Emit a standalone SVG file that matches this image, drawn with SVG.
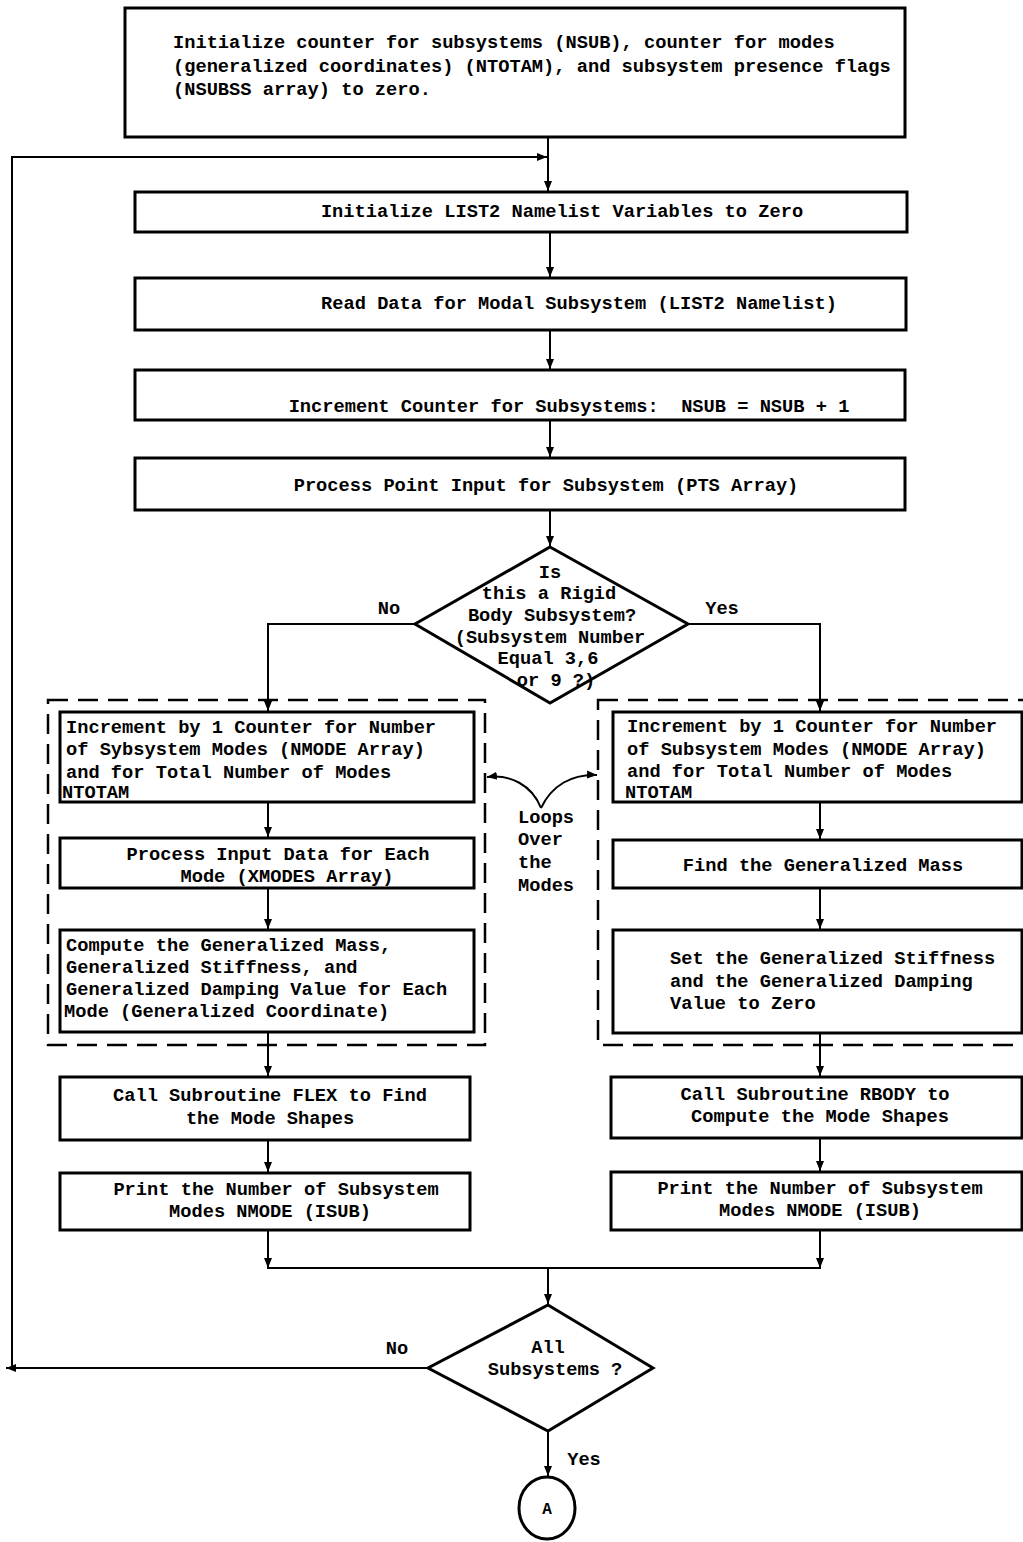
<svg xmlns="http://www.w3.org/2000/svg" width="1023" height="1542" viewBox="0 0 1023 1542">
<defs>
<style>
.box{fill:#fff;stroke:#000;stroke-width:3}
.dash{fill:none;stroke:#000;stroke-width:2.5;stroke-dasharray:20,10}
.ln{fill:none;stroke:#000;stroke-width:2}
.t{font-family:"Liberation Mono","DejaVu Sans Mono",monospace;font-weight:bold;font-size:18.7px;fill:#000}
.m{text-anchor:middle}
</style>
<marker id="ar" viewBox="0 0 10 10" refX="10" refY="5" markerWidth="10" markerHeight="10" markerUnits="userSpaceOnUse" orient="auto">
<path d="M0,1 L10,5 L0,9 z" fill="#000"/>
</marker>
</defs>
<rect width="1023" height="1542" fill="#fff"/>

<g id="connectors">
<line class="ln" x1="548" y1="137" x2="548" y2="191" marker-end="url(#ar)"/>
<polyline class="ln" points="428,1368 12,1368 12,157 547,157" marker-end="url(#ar)"/>
<line class="ln" x1="12" y1="1368" x2="6" y2="1368" marker-end="url(#ar)"/>
<line class="ln" x1="550" y1="232" x2="550" y2="277" marker-end="url(#ar)"/>
<line class="ln" x1="550" y1="330" x2="550" y2="369" marker-end="url(#ar)"/>
<line class="ln" x1="550" y1="420" x2="550" y2="457" marker-end="url(#ar)"/>
<line class="ln" x1="550" y1="510" x2="550" y2="546" marker-end="url(#ar)"/>
<polyline class="ln" points="415,624 268,624 268,711" marker-end="url(#ar)"/>
<polyline class="ln" points="688,624 820,624 820,711" marker-end="url(#ar)"/>
<line class="ln" x1="268" y1="802" x2="268" y2="837" marker-end="url(#ar)"/>
<line class="ln" x1="268" y1="888" x2="268" y2="929" marker-end="url(#ar)"/>
<line class="ln" x1="268" y1="1032" x2="268" y2="1076" marker-end="url(#ar)"/>
<line class="ln" x1="268" y1="1140" x2="268" y2="1172" marker-end="url(#ar)"/>
<line class="ln" x1="820" y1="802" x2="820" y2="839" marker-end="url(#ar)"/>
<line class="ln" x1="820" y1="888" x2="820" y2="929" marker-end="url(#ar)"/>
<line class="ln" x1="820" y1="1033" x2="820" y2="1076" marker-end="url(#ar)"/>
<line class="ln" x1="820" y1="1138" x2="820" y2="1171" marker-end="url(#ar)"/>
<polyline class="ln" points="268,1230 268,1268 820,1268 820,1230"/>
<line class="ln" x1="268" y1="1255" x2="268" y2="1268" marker-end="url(#ar)"/>
<line class="ln" x1="820" y1="1255" x2="820" y2="1268" marker-end="url(#ar)"/>
<line class="ln" x1="548" y1="1268" x2="548" y2="1304" marker-end="url(#ar)"/>
<line class="ln" x1="548" y1="1431" x2="548" y2="1476" marker-end="url(#ar)"/>
<path class="ln" d="M541,808 C532,785 510,774 487,777" marker-end="url(#ar)"/>
<path class="ln" d="M541,808 C552,785 572,774 597,775" marker-end="url(#ar)"/>
</g>

<g id="n-init">
<rect class="box" x="125" y="8" width="780" height="129"/>
<text class="t" x="173" y="48">Initialize counter for subsystems (NSUB), counter for modes</text>
<text class="t" x="173" y="72">(generalized coordinates) (NTOTAM), and subsystem presence flags</text>
<text class="t" x="173" y="95">(NSUBSS array) to zero.</text>
</g>

<g id="n-list2">
<rect class="box" x="135" y="192" width="772" height="40"/>
<text class="t m" x="562" y="217">Initialize LIST2 Namelist Variables to Zero</text>
</g>

<g id="n-read">
<rect class="box" x="135" y="278" width="771" height="52"/>
<text class="t m" x="579" y="309">Read Data for Modal Subsystem (LIST2 Namelist)</text>
</g>

<g id="n-incr">
<rect class="box" x="135" y="370" width="770" height="50"/>
<text class="t m" x="569" y="412" xml:space="preserve">Increment Counter for Subsystems:  NSUB = NSUB + 1</text>
</g>

<g id="n-pts">
<rect class="box" x="135" y="458" width="770" height="52"/>
<text class="t m" x="546" y="491">Process Point Input for Subsystem (PTS Array)</text>
</g>

<g id="n-rigid">
<polygon class="box" points="550,547 688,624 550,703 415,624"/>
<text class="t m" x="550" y="578">Is</text>
<text class="t m" x="549" y="599">this a Rigid</text>
<text class="t m" x="552" y="621">Body Subsystem?</text>
<text class="t m" x="550" y="643">(Subsystem Number</text>
<text class="t m" x="548" y="664">Equal 3,6</text>
<text class="t m" x="556" y="686">or 9 ?)</text>
<text class="t m" x="389" y="614">No</text>
<text class="t m" x="722" y="614">Yes</text>
</g>

<g id="loop-left">
<rect class="dash" x="48" y="700" width="437" height="345"/>
</g>
<g id="loop-right">
<rect class="dash" x="598" y="700" width="440" height="345"/>
</g>

<g id="loops-label">
<text class="t" x="518" y="823">Loops</text>
<text class="t" x="518" y="845">Over</text>
<text class="t" x="518" y="868">the</text>
<text class="t" x="518" y="891">Modes</text>
</g>

<g id="n-l-incr">
<rect class="box" x="60" y="712" width="414" height="90"/>
<text class="t" x="66" y="733">Increment by 1 Counter for Number</text>
<text class="t" x="66" y="755">of Sybsystem Modes (NMODE Array)</text>
<text class="t" x="66" y="778">and for Total Number of Modes</text>
<text class="t" x="62" y="798">NTOTAM</text>
</g>

<g id="n-l-proc">
<rect class="box" x="60" y="838" width="414" height="50"/>
<text class="t m" x="278" y="860">Process Input Data for Each</text>
<text class="t m" x="287" y="882">Mode (XMODES Array)</text>
</g>

<g id="n-l-comp">
<rect class="box" x="60" y="930" width="414" height="102"/>
<text class="t" x="66" y="951">Compute the Generalized Mass,</text>
<text class="t" x="66" y="973">Generalized Stiffness, and</text>
<text class="t" x="66" y="995">Generalized Damping Value for Each</text>
<text class="t" x="64" y="1017">Mode (Generalized Coordinate)</text>
</g>

<g id="n-r-incr">
<rect class="box" x="613" y="712" width="409" height="90"/>
<text class="t" x="627" y="732">Increment by 1 Counter for Number</text>
<text class="t" x="627" y="755">of Subsystem Modes (NMODE Array)</text>
<text class="t" x="627" y="777">and for Total Number of Modes</text>
<text class="t" x="625" y="798">NTOTAM</text>
</g>

<g id="n-r-mass">
<rect class="box" x="613" y="840" width="409" height="48"/>
<text class="t m" x="823" y="871">Find the Generalized Mass</text>
</g>

<g id="n-r-set">
<rect class="box" x="613" y="930" width="409" height="103"/>
<text class="t" x="670" y="964">Set the Generalized Stiffness</text>
<text class="t" x="670" y="987">and the Generalized Damping</text>
<text class="t" x="670" y="1009">Value to Zero</text>
</g>

<g id="n-flex">
<rect class="box" x="60" y="1077" width="410" height="63"/>
<text class="t m" x="270" y="1101">Call Subroutine FLEX to Find</text>
<text class="t m" x="270" y="1124">the Mode Shapes</text>
</g>

<g id="n-l-print">
<rect class="box" x="60" y="1173" width="410" height="57"/>
<text class="t m" x="276" y="1195">Print the Number of Subsystem</text>
<text class="t m" x="270" y="1217">Modes NMODE (ISUB)</text>
</g>

<g id="n-rbody">
<rect class="box" x="611" y="1077" width="411" height="61"/>
<text class="t m" x="815" y="1100">Call Subroutine RBODY to</text>
<text class="t m" x="820" y="1122">Compute the Mode Shapes</text>
</g>

<g id="n-r-print">
<rect class="box" x="611" y="1172" width="411" height="58"/>
<text class="t m" x="820" y="1194">Print the Number of Subsystem</text>
<text class="t m" x="820" y="1216">Modes NMODE (ISUB)</text>
</g>

<g id="n-all">
<polygon class="box" points="548,1305 653,1368 548,1431 428,1368"/>
<text class="t m" x="548" y="1353">All</text>
<text class="t m" x="555" y="1375">Subsystems ?</text>
<text class="t m" x="397" y="1354">No</text>
<text class="t m" x="584" y="1465">Yes</text>
</g>

<g id="n-A">
<ellipse class="box" cx="547" cy="1508" rx="28" ry="31"/>
<text class="t m" x="547" y="1514" style="font-size:16px">A</text>
</g>
</svg>
